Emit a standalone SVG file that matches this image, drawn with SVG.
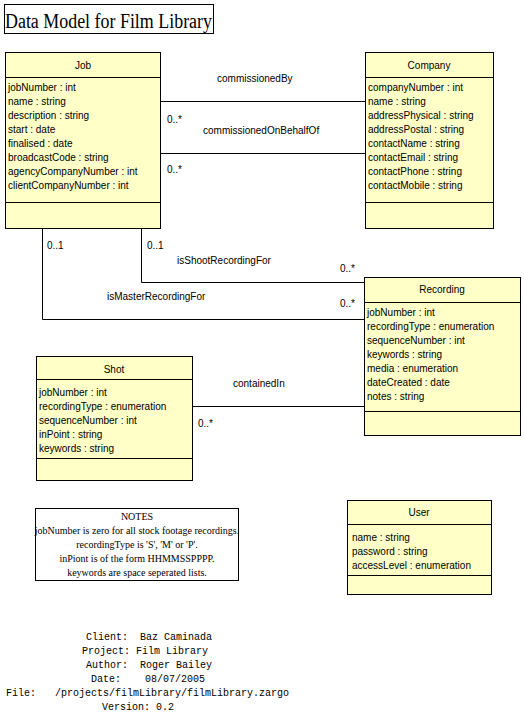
<svg xmlns="http://www.w3.org/2000/svg" width="524" height="719" viewBox="0 0 524 719">
<style>
  .box { fill: #ffffc8; stroke: #000; stroke-width: 1; }
  .sep { stroke: #000; stroke-width: 1; }
  .t { font-family: "Liberation Sans", Arial, sans-serif; font-size: 10px; fill: #000; }
  .h { text-anchor: middle; }
  .conn { fill: none; stroke: #000; stroke-width: 1; }
  .serif { font-family: "Liberation Serif", "Times New Roman", serif; fill: #000; }
  .mono { font-family: "Liberation Mono", "Courier New", monospace; font-size: 10px; fill: #000; white-space: pre; }
</style>
<rect width="524" height="719" fill="#fff"/>

<g id="title">
  <rect x="4.5" y="4.5" width="209" height="29" fill="none" stroke="#000"/>
  <text class="serif" x="5" y="28" font-size="20" textLength="207" lengthAdjust="spacingAndGlyphs">Data Model for Film Library</text>
</g>

<g id="connectors">
  <polyline class="conn" points="160,101.5 365,101.5"/>
  <polyline class="conn" points="160,153.5 365,153.5"/>
  <polyline class="conn" points="141.5,228 141.5,282.5 365,282.5"/>
  <polyline class="conn" points="42.5,228 42.5,319.5 365,319.5"/>
  <polyline class="conn" points="192,406.5 365,406.5"/>
  <text class="t" x="217" y="82">commissionedBy</text>
  <text class="t" x="203" y="134">commissionedOnBehalfOf</text>
  <text class="t" x="167" y="123">0..*</text>
  <text class="t" x="167" y="173">0..*</text>
  <text class="t" x="47" y="249">0..1</text>
  <text class="t" x="147" y="249">0..1</text>
  <text class="t" x="177" y="264">isShootRecordingFor</text>
  <text class="t" x="340" y="272">0..*</text>
  <text class="t" x="107" y="300">isMasterRecordingFor</text>
  <text class="t" x="340" y="307">0..*</text>
  <text class="t" x="233" y="387">containedIn</text>
  <text class="t" x="198" y="427">0..*</text>
</g>

<g id="job">
  <rect class="box" x="5.5" y="52.5" width="155" height="176"/>
  <line class="sep" x1="5.5" y1="77.5" x2="160.5" y2="77.5"/>
  <line class="sep" x1="5.5" y1="202.5" x2="160.5" y2="202.5"/>
  <text class="t h" x="83" y="69">Job</text>
  <text class="t" x="8" y="91">jobNumber : int</text>
  <text class="t" x="8" y="105">name : string</text>
  <text class="t" x="8" y="119">description : string</text>
  <text class="t" x="8" y="133">start : date</text>
  <text class="t" x="8" y="147">finalised : date</text>
  <text class="t" x="8" y="161">broadcastCode : string</text>
  <text class="t" x="8" y="175">agencyCompanyNumber : int</text>
  <text class="t" x="8" y="189">clientCompanyNumber : int</text>
</g>

<g id="company">
  <rect class="box" x="365.5" y="52.5" width="128" height="176"/>
  <line class="sep" x1="365.5" y1="77.5" x2="493.5" y2="77.5"/>
  <line class="sep" x1="365.5" y1="202.5" x2="493.5" y2="202.5"/>
  <text class="t h" x="429" y="69">Company</text>
  <text class="t" x="368" y="91">companyNumber : int</text>
  <text class="t" x="368" y="105">name : string</text>
  <text class="t" x="368" y="119">addressPhysical : string</text>
  <text class="t" x="368" y="133">addressPostal : string</text>
  <text class="t" x="368" y="147">contactName : string</text>
  <text class="t" x="368" y="161">contactEmail : string</text>
  <text class="t" x="368" y="175">contactPhone : string</text>
  <text class="t" x="368" y="189">contactMobile : string</text>
</g>

<g id="recording">
  <rect class="box" x="364.5" y="277.5" width="156" height="158"/>
  <line class="sep" x1="364.5" y1="302.5" x2="520.5" y2="302.5"/>
  <line class="sep" x1="364.5" y1="411.5" x2="520.5" y2="411.5"/>
  <text class="t h" x="442" y="293">Recording</text>
  <text class="t" x="367" y="316">jobNumber : int</text>
  <text class="t" x="367" y="330">recordingType : enumeration</text>
  <text class="t" x="367" y="344">sequenceNumber : int</text>
  <text class="t" x="367" y="358">keywords : string</text>
  <text class="t" x="367" y="372">media : enumeration</text>
  <text class="t" x="367" y="386">dateCreated : date</text>
  <text class="t" x="367" y="400">notes : string</text>
</g>

<g id="shot">
  <rect class="box" x="36.5" y="356.5" width="156" height="124"/>
  <line class="sep" x1="36.5" y1="379.5" x2="192.5" y2="379.5"/>
  <line class="sep" x1="36.5" y1="458.5" x2="192.5" y2="458.5"/>
  <text class="t h" x="114" y="373">Shot</text>
  <text class="t" x="39" y="396">jobNumber : int</text>
  <text class="t" x="39" y="410">recordingType : enumeration</text>
  <text class="t" x="39" y="424">sequenceNumber : int</text>
  <text class="t" x="39" y="438">inPoint : string</text>
  <text class="t" x="39" y="452">keywords : string</text>
</g>

<g id="notes">
  <rect x="35.5" y="508.5" width="203" height="72" fill="#fff" stroke="#000"/>
  <g class="serif" font-size="10" text-anchor="middle">
    <text x="137" y="520">NOTES</text>
    <text x="137" y="534">jobNumber is zero for all stock footage recordings.</text>
    <text x="137" y="548">recordingType is 'S', 'M' or 'P'.</text>
    <text x="137" y="562">inPiont is of the form HHMMSSPPPP.</text>
    <text x="137" y="576">keywords are space seperated lists.</text>
  </g>
</g>

<g id="user">
  <rect class="box" x="347.5" y="500.5" width="144" height="94"/>
  <line class="sep" x1="347.5" y1="524.5" x2="491.5" y2="524.5"/>
  <line class="sep" x1="347.5" y1="575.5" x2="491.5" y2="575.5"/>
  <text class="t h" x="419" y="516">User</text>
  <text class="t" x="352" y="541">name : string</text>
  <text class="t" x="352" y="555">password : string</text>
  <text class="t" x="352" y="569">accessLevel : enumeration</text>
</g>

<g id="footer">
  <text class="mono" x="86" y="640">Client:  Baz Caminada</text>
  <text class="mono" x="82" y="654">Project: Film Library</text>
  <text class="mono" x="86" y="668">Author:  Roger Bailey</text>
  <text class="mono" x="91" y="682">Date:    08/07/2005</text>
  <text class="mono" x="6" y="696">File:</text>
  <text class="mono" x="55" y="696">/projects/filmLibrary/filmLibrary.zargo</text>
  <text class="mono" x="102" y="710">Version: 0.2</text>
</g>
</svg>
